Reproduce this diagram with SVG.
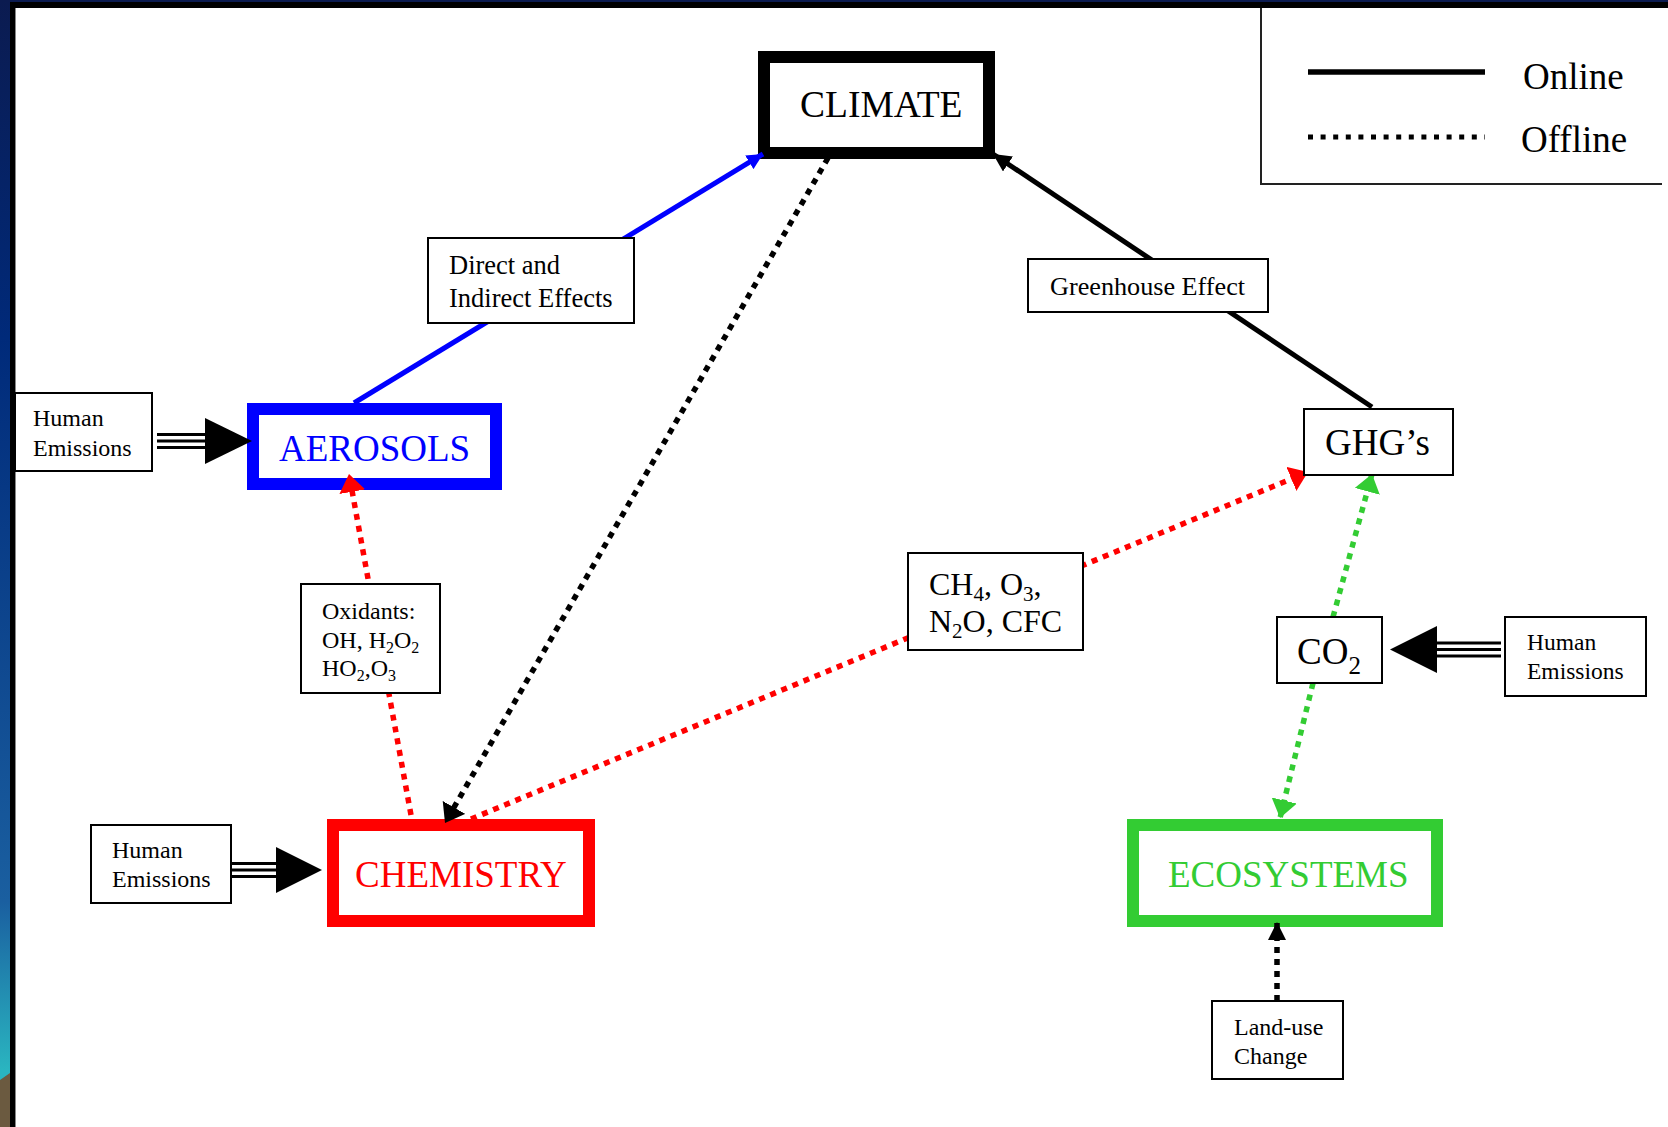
<svg xmlns="http://www.w3.org/2000/svg" width="1668" height="1127" viewBox="0 0 1668 1127">
<style>
text{font-family:"Liberation Serif","Times New Roman",serif;fill:#000}
.thin{fill:#fff;stroke:#000;stroke-width:2}
.big{font-size:37px}
.small{font-size:24px}
.dot{fill:none;stroke-width:5.5;stroke-dasharray:6 6}
.solid{fill:none;stroke-width:5}
.trip{stroke:#000;stroke-width:3}
</style>
<defs>
<linearGradient id="edge" x1="0" y1="0" x2="0" y2="1127" gradientUnits="userSpaceOnUse">
<stop offset="0" stop-color="#0b1b50"/>
<stop offset="0.3" stop-color="#002a7a"/>
<stop offset="0.8" stop-color="#1a5fa0"/>
<stop offset="0.95" stop-color="#2ab5c0"/>
</linearGradient>
<marker id="aRed" markerUnits="userSpaceOnUse" viewBox="0 0 18 26" refX="18" refY="13" markerWidth="18" markerHeight="26" orient="auto"><path d="M0,0 L18,13 L0,26 z" fill="#ff0000"/></marker>
<marker id="aGreen" markerUnits="userSpaceOnUse" viewBox="0 0 18 26" refX="18" refY="13" markerWidth="18" markerHeight="26" orient="auto"><path d="M0,0 L18,13 L0,26 z" fill="#33cc33"/></marker>
<marker id="aBlack" markerUnits="userSpaceOnUse" viewBox="0 0 18 26" refX="18" refY="13" markerWidth="18" markerHeight="26" orient="auto"><path d="M0,0 L18,13 L0,26 z" fill="#000"/></marker>
<marker id="aBlackS" markerUnits="userSpaceOnUse" viewBox="0 0 18 18" refX="18" refY="9" markerWidth="18" markerHeight="18" orient="auto"><path d="M0,0 L18,9 L0,18 z" fill="#000"/></marker>
<marker id="aBlue" markerUnits="userSpaceOnUse" viewBox="0 0 16 16" refX="16" refY="8" markerWidth="16" markerHeight="16" orient="auto"><path d="M0,0 L16,8 L0,16 z" fill="#0000ff"/></marker>
</defs>

<!-- page frame -->
<rect x="0" y="0" width="1668" height="1127" fill="#fff"/>
<rect x="0" y="0" width="10" height="1127" fill="url(#edge)"/>
<polygon points="0,1080 10,1073 10,1127 0,1127" fill="#6b5a40"/>
<rect x="0" y="0" width="1668" height="2" fill="#0b1b50"/>
<rect x="10" y="2" width="1658" height="6" fill="#000"/>
<rect x="10" y="2" width="5" height="1125" fill="#000"/>
<rect x="15" y="8" width="1" height="1119" fill="#888"/>

<!-- legend -->
<g id="legend">
<path d="M1261,8 V184 H1662" fill="none" stroke="#222" stroke-width="2"/>
<line x1="1308" y1="72" x2="1485" y2="72" stroke="#000" stroke-width="5.5"/>
<line x1="1308" y1="137" x2="1485" y2="137" stroke="#000" stroke-width="5" stroke-dasharray="5 7.6"/>
<text x="1523" y="89" class="big">Online</text>
<text x="1521" y="152" class="big">Offline</text>
</g>

<!-- main nodes -->
<g id="climate">
<rect x="764" y="57" width="225" height="96" fill="#fff" stroke="#000" stroke-width="12"/>
<text x="800" y="117" class="big" style="font-size:37.5px">CLIMATE</text>
</g>
<g id="aerosols">
<rect x="253" y="409" width="243" height="75" fill="#fff" stroke="#0000ff" stroke-width="12"/>
<text x="279" y="461" class="big" style="fill:#0000ff">AEROSOLS</text>
</g>
<g id="chemistry">
<rect x="333" y="825" width="256" height="96" fill="#fff" stroke="#ff0000" stroke-width="12"/>
<text x="355" y="887" class="big" style="fill:#ff0000">CHEMISTRY</text>
</g>
<g id="ecosystems">
<rect x="1133" y="825" width="304" height="96" fill="#fff" stroke="#33cc33" stroke-width="12"/>
<text x="1168" y="887" class="big" style="fill:#33cc33">ECOSYSTEMS</text>
</g>

<!-- connectors -->
<g id="connectors">
<line class="solid" x1="354" y1="403" x2="763" y2="154" stroke="#0000ff" marker-end="url(#aBlue)"/>
<line class="solid" x1="1372" y1="407" x2="993" y2="154" stroke="#000" marker-end="url(#aBlackS)"/>
<line class="dot" x1="828" y1="158" x2="445" y2="823" stroke="#000" marker-end="url(#aBlack)"/>
<line class="dot" x1="411" y1="815" x2="349" y2="474" stroke="#ff0000" marker-end="url(#aRed)"/>
<line class="dot" x1="471" y1="819" x2="1308" y2="472" stroke="#ff0000" marker-end="url(#aRed)"/>
<line class="dot" x1="1333" y1="617" x2="1372" y2="474" stroke="#33cc33" marker-end="url(#aGreen)"/>
<line class="dot" x1="1313" y1="683" x2="1280" y2="818" stroke="#33cc33" marker-end="url(#aGreen)"/>
<line class="dot" x1="1277" y1="1001" x2="1277" y2="922" stroke="#000" marker-end="url(#aBlackS)"/>
<g>
<line class="trip" x1="157" y1="434.5" x2="206" y2="434.5"/>
<line class="trip" x1="157" y1="441" x2="206" y2="441"/>
<line class="trip" x1="157" y1="447.5" x2="206" y2="447.5"/>
<polygon points="205,418 252,441 205,464" fill="#000"/>
</g>
<g>
<line class="trip" x1="228" y1="863.5" x2="277" y2="863.5"/>
<line class="trip" x1="228" y1="870" x2="277" y2="870"/>
<line class="trip" x1="228" y1="876.5" x2="277" y2="876.5"/>
<polygon points="276,847 322,870 276,893" fill="#000"/>
</g>
<g>
<line class="trip" x1="1436" y1="643" x2="1501" y2="643"/>
<line class="trip" x1="1436" y1="649.5" x2="1501" y2="649.5"/>
<line class="trip" x1="1436" y1="656" x2="1501" y2="656"/>
<polygon points="1437,626 1390,649.5 1437,673" fill="#000"/>
</g>
</g>

<!-- label nodes -->
<g id="ghgs">
<rect x="1304" y="409" width="149" height="66" class="thin"/>
<text x="1325" y="455" class="big">GHG’s</text>
</g>
<g id="co2">
<rect x="1277" y="617" width="105" height="66" class="thin"/>
<text x="1297" y="664" class="big">CO<tspan font-size="25" dy="10">2</tspan></text>
</g>
<g id="direct-effects">
<rect x="428" y="238" width="206" height="85" class="thin"/>
<text x="449" y="274" style="font-size:26.5px">Direct and</text>
<text x="449" y="307" style="font-size:26.5px">Indirect Effects</text>
</g>
<g id="greenhouse-effect">
<rect x="1028" y="259" width="240" height="53" class="thin"/>
<text x="1050" y="295" style="font-size:26.2px">Greenhouse Effect</text>
</g>
<g id="oxidants">
<rect x="301" y="584" width="139" height="109" class="thin"/>
<text x="322" y="619" class="small">Oxidants:</text>
<text x="322" y="647.5" class="small">OH, H<tspan font-size="16" dy="5">2</tspan><tspan dy="-5">O</tspan><tspan font-size="16" dy="5">2</tspan></text>
<text x="322" y="676" class="small">HO<tspan font-size="16" dy="5">2</tspan><tspan dy="-5">,O</tspan><tspan font-size="16" dy="5">3</tspan></text>
</g>
<g id="gases">
<rect x="908" y="553" width="175" height="97" class="thin"/>
<text x="929" y="595" style="font-size:32px">CH<tspan font-size="21" dy="6">4</tspan><tspan dy="-6">, O</tspan><tspan font-size="21" dy="6">3</tspan><tspan dy="-6">,</tspan></text>
<text x="929" y="632" style="font-size:32px">N<tspan font-size="21" dy="6">2</tspan><tspan dy="-6">O, CFC</tspan></text>
</g>
<g id="human-emissions-aerosols">
<rect x="15" y="393" width="137" height="78" class="thin"/>
<text x="33" y="426" class="small">Human</text>
<text x="33" y="456" class="small">Emissions</text>
</g>
<g id="human-emissions-chemistry">
<rect x="91" y="825" width="140" height="78" class="thin"/>
<text x="112" y="858" class="small">Human</text>
<text x="112" y="887" class="small">Emissions</text>
</g>
<g id="human-emissions-co2">
<rect x="1505" y="617" width="141" height="79" class="thin"/>
<text x="1527" y="650" class="small" style="font-size:23.5px">Human</text>
<text x="1527" y="679" class="small" style="font-size:23.5px">Emissions</text>
</g>
<g id="land-use">
<rect x="1212" y="1001" width="131" height="78" class="thin"/>
<text x="1234" y="1035" class="small">Land-use</text>
<text x="1234" y="1064" class="small">Change</text>
</g>
</svg>
